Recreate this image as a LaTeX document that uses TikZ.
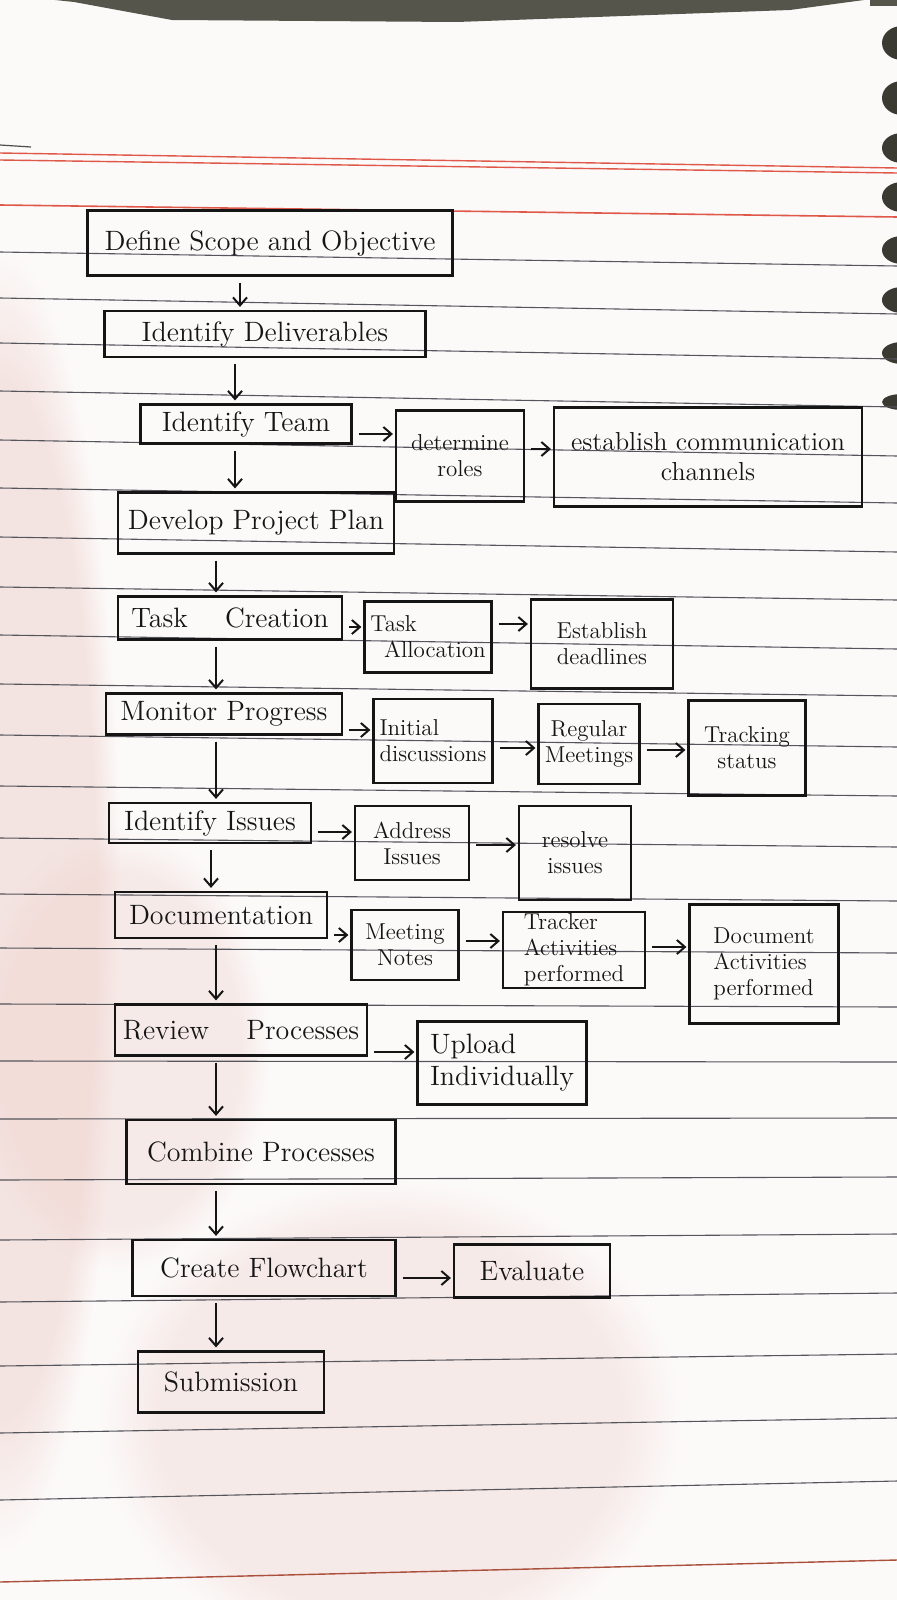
\documentclass[tikz,border=0pt]{standalone}
\usepackage{fontspec}
\usetikzlibrary{arrows.meta,fadings}
\definecolor{ink}{HTML}{151515}
\definecolor{rulecol}{HTML}{55555C}
\definecolor{redrule}{HTML}{E0584A}
\definecolor{bandcol}{HTML}{56554B}
\definecolor{holecol}{HTML}{3A3A33}
\definecolor{paper}{HTML}{FCFAF9}
\definecolor{blush}{HTML}{EFD3CF}
\begin{document}
\begin{tikzpicture}[x=0.5pt,y=-0.5pt,
  bx/.style={draw=ink,line width=1.1pt,inner sep=1pt,align=center,text=ink,font=\fontsize{14}{16}\selectfont},
  sm/.style={font=\fontsize{11.5}{13}\selectfont},
  lf/.style={align=left},
  sz/.style 2 args={minimum width={#1*0.5pt},minimum height={#2*0.5pt}},
  arr/.style={draw=ink,line width=1pt,-{Straight Barb[length=4pt,width=7pt]}},
  dn/.style={arr,shorten <=3pt,shorten >=1.5pt},
  rt/.style={arr,shorten <=3pt,shorten >=1pt},
  rule/.style={draw=rulecol,line width=0.55pt},
  soft/.style={fill=blush,path fading=circle with fuzzy edge 20 percent}]

\useasboundingbox (0,0) rectangle (897,1600);
% paper
\fill[paper] (0,0) rectangle (897,1600);
\path[soft,opacity=0.55] (0,900) ellipse (120 and 650);
\path[soft,opacity=0.4] (120,1050) ellipse (150 and 220);
\path[soft,opacity=0.4] (390,1420) ellipse (290 and 240);

% top dark band and binder holes
\fill[bandcol] (55,0) -- (74,2) -- (172,20) -- (457,22) -- (790,10) -- (864,0) -- cycle;
\fill[bandcol] (870,0) rectangle (897,6);
\foreach \hy/\hr in {43/17,98/17,148/15,197/15,250/14,300/13,353/11,402/8}
  \fill[holecol] (902,\hy) ellipse (20 and \hr);

% ruled lines
\draw[line width=0.6pt,black!70] (0,145) -- (31,147);
\draw[redrule,line width=0.7pt] (0,153) -- (897,168);
\draw[redrule,line width=0.7pt] (0,160) -- (897,173);
\draw[redrule,line width=0.8pt] (0,205) -- (897,217);
\foreach \L/\d in {252/14,298/16,343/16,391/16,440/16,488/15,537/15,587/13,635/14,684/12,735/12,786/10,838/9,894/7,948/5,1004/3,1061/1,1119/-1,1180/-3,1240/-6,1302/-9,1366/-12,1433/-15,1500/-19}
  \draw[rule] (0,\L) -- (897,{\L+\d});
\draw[draw={rgb,255:red,170;green,80;blue,60},line width=0.7pt] (0,1582) -- (897,1560);

% boxes
\node[bx,sz={365}{65}] (b1) at (270,243) {Define Scope and Objective};
\node[bx,sz={321}{46}] (b2) at (265,334) {Identify Deliverables};
\node[bx,sz={211}{39}] (b3) at (246,424) {Identify Team};
\node[bx,sm,sz={128}{91}] (b4) at (460,456) {determine\\roles};
\node[bx,sz={308}{99},font=\fontsize{13}{15}\selectfont] (b5) at (708,457) {establish communication\\channels};
\node[bx,sz={276}{61}] (b6) at (256,523) {Develop Project Plan};
\node[bx,sz={224}{43}] (b7) at (230,618) {Task \quad Creation};
\node[bx,sm,lf,sz={127}{71}] (b8) at (428,637) {Task\\\hspace{0.6em}Allocation};
\node[bx,sm,sz={142}{89}] (b9) at (602,644) {Establish\\deadlines};
\node[bx,sz={236}{41}] (b10) at (224,714) {Monitor Progress};
\node[bx,sm,lf,sz={119}{84}] (b11) at (433,741) {Initial\\discussions};
\node[bx,sm,sz={101}{80}] (b12) at (589,744) {Regular\\Meetings};
\node[bx,sm,sz={117}{95}] (b13) at (747,748) {Tracking\\status};
\node[bx,sz={202}{40}] (b14) at (210,823) {Identify Issues};
\node[bx,sm,sz={114}{74}] (b15) at (412,843) {Address\\Issues};
\node[bx,sm,sz={112}{94}] (b16) at (575,853) {resolve\\issues};
\node[bx,sz={212}{46}] (b17) at (221,915) {Documentation};
\node[bx,sm,sz={107}{70}] (b18) at (405,945) {Meeting\\Notes};
\node[bx,sm,lf,sz={142}{74}] (b19) at (574,950) {Tracker\\Activities\\performed};
\node[bx,sm,lf,sz={149}{119}] (b20) at (764,964) {Document\\Activities\\performed};
\node[bx,sz={252}{51}] (b21) at (241,1030) {Review \quad Processes};
\node[bx,lf,sz={169}{83}] (b22) at (502,1063) {Upload\\Individually};
\node[bx,sz={269}{64}] (b23) at (261,1152) {Combine Processes};
\node[bx,sz={263}{56}] (b24) at (264,1268) {Create Flowchart};
\node[bx,sz={156}{53}] (b25) at (532,1271) {Evaluate};
\node[bx,sz={186}{61}] (b26) at (231,1382) {Submission};

% down arrows
\coordinate (v1) at (240,0);
\coordinate (v2) at (235,0);
\coordinate (v3) at (216,0);
\coordinate (v4) at (211,0);
\draw[dn] (b1.south -| v1) -- (b2.north -| v1);
\draw[dn] (b2.south -| v2) -- (b3.north -| v2);
\draw[dn] (b3.south -| v2) -- (b6.north -| v2);
\draw[dn] (b6.south -| v3) -- (b7.north -| v3);
\draw[dn] (b7.south -| v3) -- (b10.north -| v3);
\draw[dn] (b10.south -| v3) -- (b14.north -| v3);
\draw[dn] (b14.south -| v4) -- (b17.north -| v4);
\draw[dn] (b17.south -| v3) -- (b21.north -| v3);
\draw[dn] (b21.south -| v3) -- (b23.north -| v3);
\draw[dn] (b23.south -| v3) -- (b24.north -| v3);
\draw[dn] (b24.south -| v3) -- (b26.north -| v3);

% right arrows
\coordinate (h34) at (0,434);
\coordinate (h45) at (0,449);
\coordinate (h78) at (0,627);
\coordinate (h89) at (0,624);
\coordinate (h1011) at (0,730);
\coordinate (h1112) at (0,748);
\coordinate (h1213) at (0,750);
\coordinate (h1415) at (0,832);
\coordinate (h1516) at (0,845);
\coordinate (h1718) at (0,935);
\coordinate (h1819) at (0,941);
\coordinate (h1920) at (0,947);
\coordinate (h2122) at (0,1052);
\coordinate (h2425) at (0,1278);
\draw[rt] (b3.east |- h34) -- (b4.west |- h34);
\draw[rt] (b4.east |- h45) -- (b5.west |- h45);
\draw[rt] (b7.east |- h78) -- (b8.west |- h78);
\draw[rt] (b8.east |- h89) -- (b9.west |- h89);
\draw[rt] (b10.east |- h1011) -- (b11.west |- h1011);
\draw[rt] (b11.east |- h1112) -- (b12.west |- h1112);
\draw[rt] (b12.east |- h1213) -- (b13.west |- h1213);
\draw[rt] (b14.east |- h1415) -- (b15.west |- h1415);
\draw[rt] (b15.east |- h1516) -- (b16.west |- h1516);
\draw[rt] (b17.east |- h1718) -- (b18.west |- h1718);
\draw[rt] (b18.east |- h1819) -- (b19.west |- h1819);
\draw[rt] (b19.east |- h1920) -- (b20.west |- h1920);
\draw[rt] (b21.east |- h2122) -- (b22.west |- h2122);
\draw[rt] (b24.east |- h2425) -- (b25.west |- h2425);
\end{tikzpicture}
\end{document}
